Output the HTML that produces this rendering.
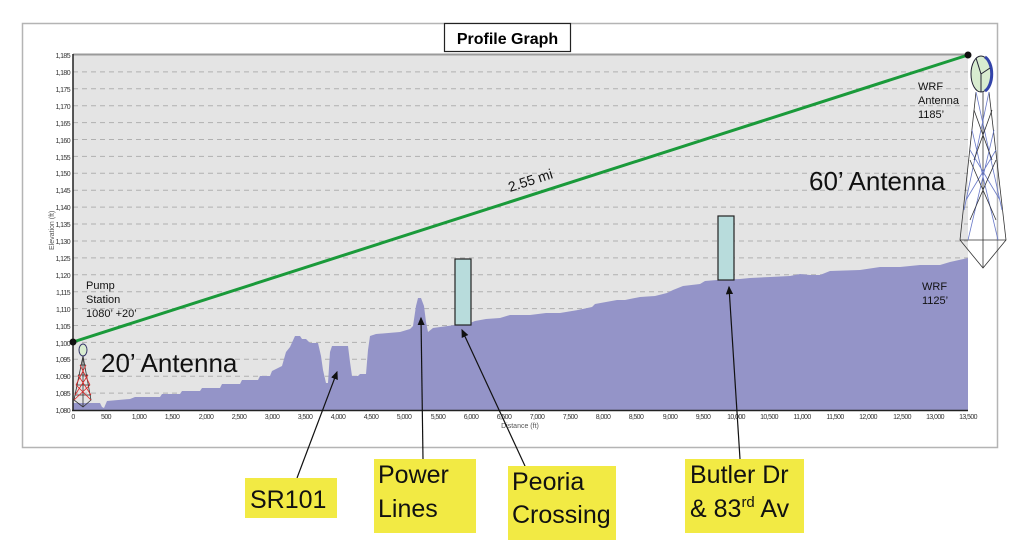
<!DOCTYPE html>
<html><head><meta charset="utf-8"><style>
html,body{margin:0;padding:0;background:#fff;}
svg{display:block;font-family:"Liberation Sans",Arial,sans-serif;}
</style></head><body>
<svg width="1024" height="542" viewBox="0 0 1024 542" xmlns="http://www.w3.org/2000/svg">
<rect x="0" y="0" width="1024" height="542" fill="#fff"/>
<rect x="22.5" y="23.5" width="975" height="424" fill="#fff" stroke="#b4b4b4" stroke-width="1.5"/>
<rect x="73" y="55" width="895" height="355" fill="#e4e4e4"/>
<line x1="73" y1="54.5" x2="968" y2="54.5" stroke="#9a9a9a" stroke-width="2"/>
<g stroke="#b0b0b0" stroke-width="1" stroke-dasharray="5,4">
<line x1="73" y1="71.9" x2="968" y2="71.9"/><line x1="73" y1="88.8" x2="968" y2="88.8"/>
<line x1="73" y1="105.7" x2="968" y2="105.7"/><line x1="73" y1="122.6" x2="968" y2="122.6"/>
<line x1="73" y1="139.5" x2="968" y2="139.5"/><line x1="73" y1="156.4" x2="968" y2="156.4"/>
<line x1="73" y1="173.3" x2="968" y2="173.3"/><line x1="73" y1="190.2" x2="968" y2="190.2"/>
<line x1="73" y1="207.1" x2="968" y2="207.1"/><line x1="73" y1="224.0" x2="968" y2="224.0"/>
<line x1="73" y1="241.0" x2="968" y2="241.0"/><line x1="73" y1="257.9" x2="968" y2="257.9"/>
<line x1="73" y1="274.8" x2="968" y2="274.8"/><line x1="73" y1="291.7" x2="968" y2="291.7"/>
<line x1="73" y1="308.6" x2="968" y2="308.6"/><line x1="73" y1="325.5" x2="968" y2="325.5"/>
<line x1="73" y1="342.4" x2="968" y2="342.4"/><line x1="73" y1="359.3" x2="968" y2="359.3"/>
<line x1="73" y1="376.2" x2="968" y2="376.2"/><line x1="73" y1="393.1" x2="968" y2="393.1"/>
</g>
<polygon fill="#9494c8" points="73,410 73,403 100,403 102,407 104,408 107,401 130,399 135,397 160,397 162,394 180,394 182,391 200,391 202,388 220,388 222,384 240,384 242,380 258,380 260,376 270,376 272,371 282,366 286,352 290,347 295,336 300,336 302,339 306,339 310,343 318,343 321,356 323,370 326,383 328,383 330,352 332,346 348,346 350,362 352,376 358,376 360,374 366,374 368,350 370,336 376,334 400,332 410,329 413,326 416,306 418,298 421,298 424,306 426,322 428,332 433,328 455,325 470,323 475,321 486,319 500,318 510,315 530,315 546,313 560,313 578,310 592,307 595,304 617,300 625,300 640,297 655,296 667,293 673,290 683,286 700,284 705,281 717,280 740,279 750,278 770,277 790,276 800,274 810,275 820,275 830,271 860,270 880,267 900,267 920,265 940,265 950,262 968,258 968,410"/>
<line x1="73" y1="54" x2="73" y2="411" stroke="#222" stroke-width="1.5"/>
<line x1="72" y1="410.5" x2="968" y2="410.5" stroke="#222" stroke-width="1.5"/>
<g font-size="7" fill="#333" text-anchor="end" letter-spacing="-0.6">
<text x="70" y="58">1,185</text><text x="70" y="75">1,180</text><text x="70" y="92">1,175</text><text x="70" y="109">1,170</text><text x="70" y="126">1,165</text><text x="70" y="143">1,160</text><text x="70" y="160">1,155</text><text x="70" y="176">1,150</text><text x="70" y="193">1,145</text><text x="70" y="210">1,140</text><text x="70" y="227">1,135</text><text x="70" y="244">1,130</text><text x="70" y="261">1,125</text><text x="70" y="278">1,120</text><text x="70" y="295">1,115</text><text x="70" y="312">1,110</text><text x="70" y="329">1,105</text><text x="70" y="346">1,100</text><text x="70" y="362">1,095</text><text x="70" y="379">1,090</text><text x="70" y="396">1,085</text><text x="70" y="413">1,080</text>
</g>
<text x="0" y="0" font-size="7" fill="#555" transform="translate(54,250) rotate(-90)">Elevation (ft)</text>
<g font-size="7" fill="#333" text-anchor="middle" letter-spacing="-0.6">
<text x="73" y="419">0</text><text x="106" y="419">500</text><text x="139" y="419">1,000</text><text x="172" y="419">1,500</text><text x="206" y="419">2,000</text><text x="239" y="419">2,500</text><text x="272" y="419">3,000</text><text x="305" y="419">3,500</text><text x="338" y="419">4,000</text><text x="371" y="419">4,500</text><text x="404" y="419">5,000</text><text x="438" y="419">5,500</text><text x="471" y="419">6,000</text><text x="504" y="419">6,500</text><text x="537" y="419">7,000</text><text x="570" y="419">7,500</text><text x="603" y="419">8,000</text><text x="636" y="419">8,500</text><text x="670" y="419">9,000</text><text x="703" y="419">9,500</text><text x="736" y="419">10,000</text><text x="769" y="419">10,500</text><text x="802" y="419">11,000</text><text x="835" y="419">11,500</text><text x="868" y="419">12,000</text><text x="902" y="419">12,500</text><text x="935" y="419">13,000</text><text x="968" y="419">13,500</text>
</g>
<text x="520" y="428" font-size="7" fill="#555" text-anchor="middle">Distance (ft)</text>
<rect x="444.5" y="23.5" width="126" height="28" fill="#fff" stroke="#222" stroke-width="1.2"/>
<text x="507.5" y="44" font-size="16" font-weight="bold" text-anchor="middle">Profile Graph</text>
<line x1="73" y1="342" x2="968" y2="55" stroke="#1a9a3a" stroke-width="3"/>
<circle cx="73" cy="342" r="3.5" fill="#111"/>
<circle cx="968" cy="55" r="3.5" fill="#111"/>
<text x="0" y="0" font-size="14" fill="#111" transform="translate(510,192) rotate(-17.8)">2.55 mi</text>
<rect x="455" y="259" width="16" height="66" fill="#b8dcdc" stroke="#222" stroke-width="1.2"/>
<rect x="718" y="216" width="16" height="64" fill="#b8dcdc" stroke="#222" stroke-width="1.2"/>
<g font-size="11" fill="#111">
<text x="86" y="289">Pump</text><text x="86" y="303">Station</text><text x="86" y="317">1080’ +20’</text>
<text x="918" y="90">WRF</text><text x="918" y="104">Antenna</text><text x="918" y="118">1185’</text>
<text x="922" y="290">WRF</text><text x="922" y="304">1125’</text>
</g>
<text x="101" y="372" font-size="26" fill="#111">20’ Antenna</text>
<text x="809" y="190" font-size="26" fill="#111">60’ Antenna</text>
<g stroke-width="0.8" fill="none">
<path d="M83,356 L74,400 L83,407 L91,400 Z" stroke="#333"/>
<path d="M83,356 L83,407 M75,395 L91,395 M76,385 L90,385 M78,375 L88,375 M80,365 L86,365" stroke="#333"/>
<path d="M75,395 L88,375 M91,395 L78,375 M76,385 L86,365 M90,385 L80,365 M74,400 L90,385 M91,400 L76,385" stroke="#d22"/>
</g>
<ellipse cx="83" cy="350" rx="4" ry="6" fill="#d8ecd0" stroke="#336" stroke-width="1"/>
<g stroke-width="0.8" fill="none">
<path d="M976,92 L960,240 L983,268 L1006,240 L989,92" stroke="#333"/>
<path d="M983,92 L983,268 M960,240 L1006,240" stroke="#333"/>
<path d="M976,92 L1002,210 M989,92 L964,210 M972,130 L998,240 M994,130 L968,240 M970,150 L1000,200 M996,150 L966,200" stroke="#6a7ac8"/>
<path d="M974,110 L992,160 M992,110 L974,160 M970,160 L996,220 M996,160 L970,220" stroke="#333"/>
</g>
<ellipse cx="981" cy="74" rx="10" ry="18" fill="#d8ecd0" stroke="#223" stroke-width="1"/>
<path d="M985,57 A10,18 0 0 1 985,91" stroke="#3344aa" stroke-width="3" fill="none"/>
<path d="M981,74 L976,58 M981,74 L990,68 M981,74 L981,92" stroke="#223" stroke-width="1"/>
<defs><marker id="ah" markerWidth="8" markerHeight="8" refX="6" refY="3" orient="auto"><path d="M0,0 L7,3 L0,6 Z" fill="#111"/></marker></defs>
<g stroke="#111" stroke-width="1.2">
<line x1="297" y1="478" x2="337" y2="372" marker-end="url(#ah)"/>
<line x1="423" y1="459" x2="421" y2="318" marker-end="url(#ah)"/>
<line x1="525" y1="466" x2="462" y2="330" marker-end="url(#ah)"/>
<line x1="740" y1="459" x2="729" y2="287" marker-end="url(#ah)"/>
</g>
<g fill="#f2ea44">
<rect x="245" y="478" width="92" height="40"/>
<rect x="374" y="459" width="102" height="74"/>
<rect x="508" y="466" width="108" height="74"/>
<rect x="685" y="459" width="119" height="74"/>
</g>
<g font-size="25" fill="#111">
<text x="250" y="508">SR101</text>
<text x="378" y="483">Power</text><text x="378" y="517">Lines</text>
<text x="512" y="490">Peoria</text><text x="512" y="523">Crossing</text>
<text x="690" y="483">Butler Dr</text><text x="690" y="517">&amp; 83<tspan font-size="15" dy="-10">rd</tspan><tspan dy="10"> Av</tspan></text>
</g>
</svg>
</body></html>
